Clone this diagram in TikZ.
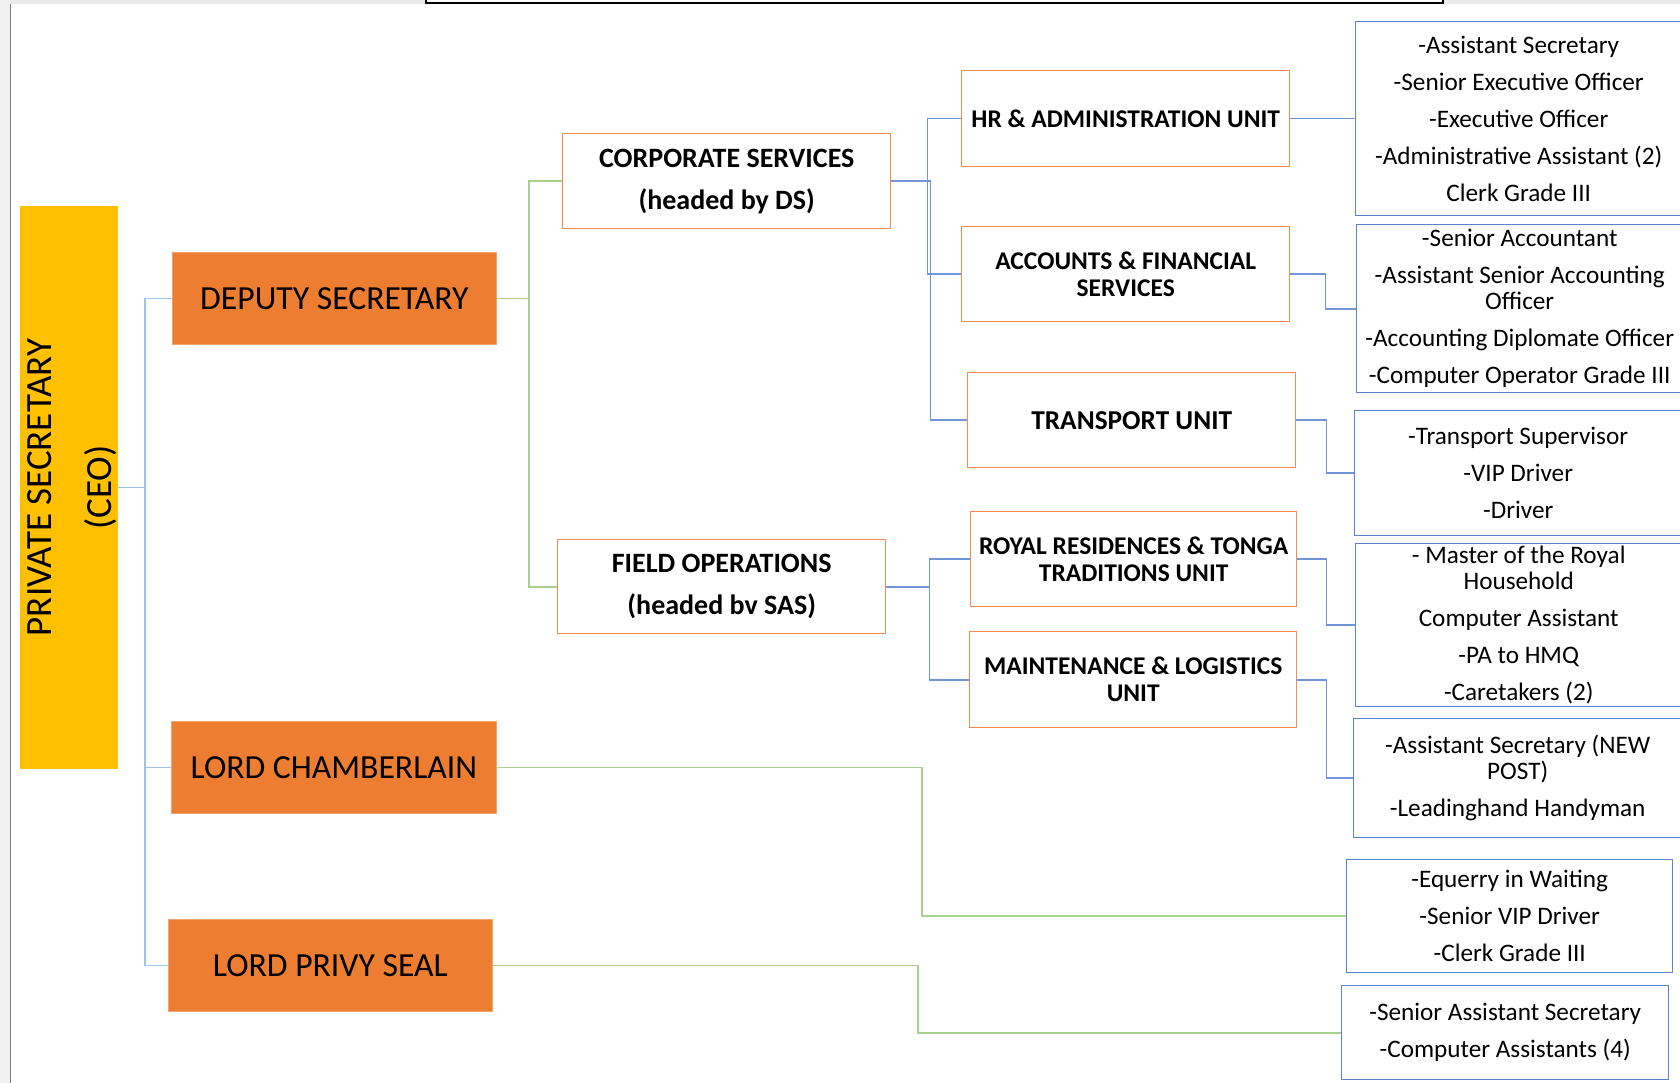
\documentclass[tikz,border=0pt]{standalone}
\usepackage{fontspec}
\setmainfont{Carlito}
\definecolor{psyellow}{HTML}{FFC000}
\definecolor{lordorange}{HTML}{ED7D31}
\definecolor{unitorange}{HTML}{F08C4E}
\definecolor{staffblue}{HTML}{5B82CF}
\definecolor{linkblue}{HTML}{7196D8}
\definecolor{pslink}{HTML}{9DC3E6}
\definecolor{linkgreen}{HTML}{A9D18E}
\definecolor{framegray}{HTML}{EAEAEA}
\begin{document}
\begin{tikzpicture}[x=1pt,y=-1pt,
  box/.style={anchor=north west, inner sep=0pt, align=center},
  psbox/.style={fill=psyellow, inner sep=0pt, align=center, font=\fontsize{37}{60}\selectfont},
  lordbox/.style={box, fill=lordorange, draw=lordorange!70!white, line width=0.8pt, font=\fontsize{33.7}{40}\selectfont},
  divbox/.style={box, draw=unitorange, line width=1.4pt, fill=white, font=\bfseries\fontsize{28}{42}\selectfont},
  unitbox/.style={box, draw=unitorange, line width=1.4pt, fill=white, font=\bfseries\fontsize{25.5}{27}\selectfont},
  staffbox/.style={box, draw=staffblue, line width=1.4pt, fill=white, font=\fontsize{25.2}{25.7}\selectfont},
  pslinkstyle/.style={draw=pslink, line width=1.6pt},
  bluelink/.style={draw=linkblue, line width=1.6pt},
  greenlink/.style={draw=linkgreen, line width=1.6pt}]
\useasboundingbox (0,0) rectangle (1680,1083);
\clip (0,0) rectangle (1680,1083);
% screenshot frame
\fill[white] (0,0) rectangle (1680,1083);
\fill[framegray] (0,0) rectangle (1680,4);
\fill[framegray!70!white] (0,0) rectangle (10,1083);
\draw[gray, line width=1.5pt] (10.5,4) -- (10.5,1083);
\fill[white] (426,0) rectangle (1443,3);
\draw[black, line width=1.5pt] (426,-2) -- (426,3) -- (1443,3) -- (1443,-2);

% main boxes
\node[psbox, rotate=90, minimum width=563, minimum height=98] (ps) at (69,487.5) {\rule{0pt}{30pt}PRIVATE SECRETARY\\(CEO)};
\node[lordbox, minimum width=324, minimum height=92] (ds) at (172,252) {DEPUTY SECRETARY};
\node[lordbox, minimum width=325, minimum height=92] (lc) at (171,721) {LORD CHAMBERLAIN};
\node[lordbox, minimum width=324, minimum height=92] (lps) at (168,919) {LORD PRIVY SEAL};

\node[divbox, minimum width=328, minimum height=95] (cs) at (562,133) {CORPORATE SERVICES\\(headed by DS)};
\node[divbox, minimum width=328, minimum height=94] (fo) at (557,539) {FIELD OPERATIONS\\(headed bv SAS)};

\node[unitbox, minimum width=328, minimum height=96] (hr) at (961,70) {HR \& ADMINISTRATION UNIT};
\node[unitbox, minimum width=328, minimum height=95] (acc) at (961,226) {ACCOUNTS \& FINANCIAL\\SERVICES};
\node[unitbox, minimum width=328, minimum height=95] (tr) at (967,372) {\fontsize{27.3}{27}\selectfont TRANSPORT UNIT};
\node[unitbox, minimum width=326, minimum height=95] (rr) at (970,511) {ROYAL RESIDENCES \& TONGA\\TRADITIONS UNIT};
\node[unitbox, minimum width=327, minimum height=96] (mt) at (969,631) {MAINTENANCE \& LOGISTICS\\UNIT};

\node[staffbox, minimum width=326, minimum height=194] (s1) at (1355,21) {-Assistant Secretary\\[11.3pt]-Senior Executive Officer\\[11.3pt]-Executive Officer\\[11.3pt]-Administrative Assistant (2)\\[11.3pt]Clerk Grade III};
\node[staffbox, minimum width=326, minimum height=168] (s2) at (1356,224) {-Senior Accountant\\[11.3pt]-Assistant Senior Accounting\\Officer\\[11.3pt]-Accounting Diplomate Officer\\[11.3pt]-Computer Operator Grade III};
\node[staffbox, minimum width=327, minimum height=125] (s3) at (1354,410) {-Transport Supervisor\\[11.3pt]-VIP Driver\\[11.3pt]-Driver};
\node[staffbox, minimum width=326, minimum height=163] (s4) at (1355,543) {- Master of the Royal\\Household\\[11.3pt]Computer Assistant\\[11.3pt]-PA to HMQ\\[11.3pt]-Caretakers (2)};
\node[staffbox, minimum width=328, minimum height=119] (s5) at (1353,718) {-Assistant Secretary (NEW\\POST)\\[11.3pt]-Leadinghand Handyman};
\node[staffbox, minimum width=326, minimum height=113] (s6) at (1346,859) {-Equerry in Waiting\\[11.3pt]-Senior VIP Driver\\[11.3pt]-Clerk Grade III};
\node[staffbox, minimum width=327, minimum height=94] (s7) at (1341,985) {-Senior Assistant Secretary\\[11.3pt]-Computer Assistants (4)};

% connectors
\draw[pslinkstyle] (ps.south) -- ++(27,0) |- (ds.west);
\draw[pslinkstyle] (ps.south) -- ++(27,0) |- (lc.west);
\draw[pslinkstyle] (ps.south) -- ++(27,0) |- (lps.west);

\draw[greenlink] (ds.east) -- ++(32,0) |- (cs.west);
\draw[greenlink] (ds.east) -- ++(32,0) |- (fo.west);

\draw[bluelink] (cs.east) -- ++(36,0) |- (hr.west);
\draw[bluelink] (cs.east) -- ++(36,0) |- (acc.west);
\draw[bluelink] (cs.east) -- ++(39,0) |- (tr.west);
\draw[bluelink] (fo.east) -- ++(43,0) |- (rr.west);
\draw[bluelink] (fo.east) -- ++(43,0) |- (mt.west);

\draw[bluelink] (hr.east) -- (s1.west);
\draw[bluelink] (acc.east) -- ++(35,0) |- (s2.west);
\draw[bluelink] (tr.east) -- ++(30,0) |- (s3.west);
\draw[bluelink] (rr.east) -- ++(29,0) |- (s4.west);
\draw[bluelink] (mt.east) -- ++(29,0) |- (s5.west);

\draw[greenlink] (lc.east) -- ++(425,0) |- (s6.west);
\draw[greenlink] (lps.east) -- ++(425,0) |- (s7.west);
\end{tikzpicture}
\end{document}
